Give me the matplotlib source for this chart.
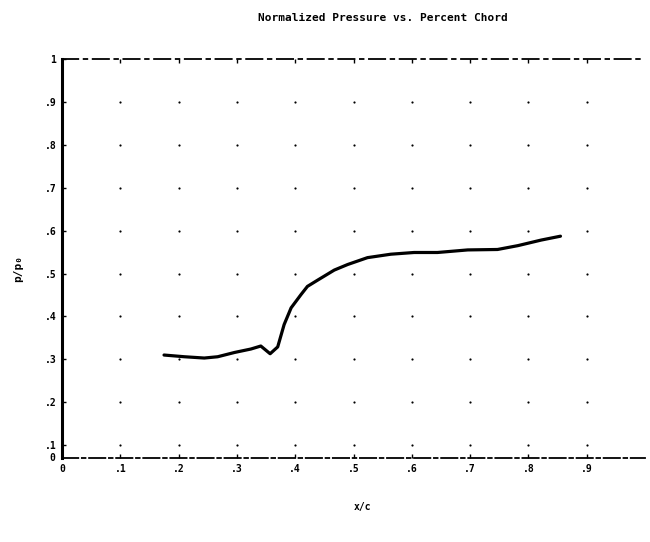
import numpy as np
import matplotlib.pyplot as plt

# normalized pressure vs percent chord
x_c = [0.175, 0.21, 0.244, 0.267, 0.296, 0.324, 0.341, 0.357, 0.370,
       0.381, 0.393, 0.410, 0.421, 0.439, 0.467, 0.490, 0.524, 0.564,
       0.604, 0.644, 0.696, 0.747, 0.782, 0.822, 0.855]
p_p0 = [0.310, 0.306, 0.303, 0.306, 0.316, 0.324, 0.331, 0.313, 0.329,
        0.381, 0.420, 0.451, 0.470, 0.485, 0.508, 0.521, 0.537, 0.545,
        0.549, 0.549, 0.555, 0.556, 0.565, 0.578, 0.587]

xticks = [0, .1, .2, .3, .4, .5, .6, .7, .8, .9]
xlabels = ['0', '.1', '.2', '.3', '.4', '.5', '.6', '.7', '.8', '.9']
yticks = [.1, .2, .3, .4, .5, .6, .7, .8, .9, 1.0]
ylabels = ['.1', '.2', '.3', '.4', '.5', '.6', '.7', '.8', '.9', '1']

fnt = dict(family='DejaVu Sans Mono', weight='bold')

fig = plt.figure(figsize=(6.5, 5.42), dpi=100)
ax = fig.add_axes([62/650, 84/542, 583/650, 399/542])

# dotted grid: dots at tick intersections
gx, gy = np.meshgrid(xticks[1:], yticks[:-1])
ax.scatter(gx.ravel(), gy.ravel(), s=2.5, c='k', linewidths=0, zorder=1)

ax.plot(x_c, p_p0, color='k', lw=2.3, solid_capstyle='round', zorder=3)

ax.set_xlim(0, 1.0)
ax.set_ylim(0.07, 1.0)
ax.set_xticks(xticks)
ax.set_xticklabels(xlabels, fontsize=7, **fnt)
ax.set_yticks(yticks)
ax.set_yticklabels(ylabels, fontsize=7, **fnt)
ax.tick_params(direction='in', length=3, width=1, top=True, pad=4)

ax.spines['right'].set_visible(False)
ax.spines['left'].set_linewidth(2.2)
ax.spines['bottom'].set_linewidth(1.3)
ax.spines['bottom'].set_linestyle((0, (9, 2, 2, 2)))
ax.spines['top'].set_linewidth(1.3)
ax.spines['top'].set_linestyle((0, (9, 3, 2, 3)))

ax.text(-0.012, 0.0, '0', transform=ax.transAxes, ha='right', va='center',
        fontsize=7, **fnt)

fig.text(383/650, 1 - 18/542, 'Normalized Pressure vs. Percent Chord',
         ha='center', va='center', fontsize=8, **fnt)
fig.text(363/650, 1 - 507/542, 'x/c', ha='center', va='center',
         fontsize=7, **fnt)
fig.text(18/650, 1 - 268/542, 'p/p\u2080', ha='center', va='center',
         rotation=90, fontsize=8, **fnt)

fig.savefig('out.png', dpi=100)
